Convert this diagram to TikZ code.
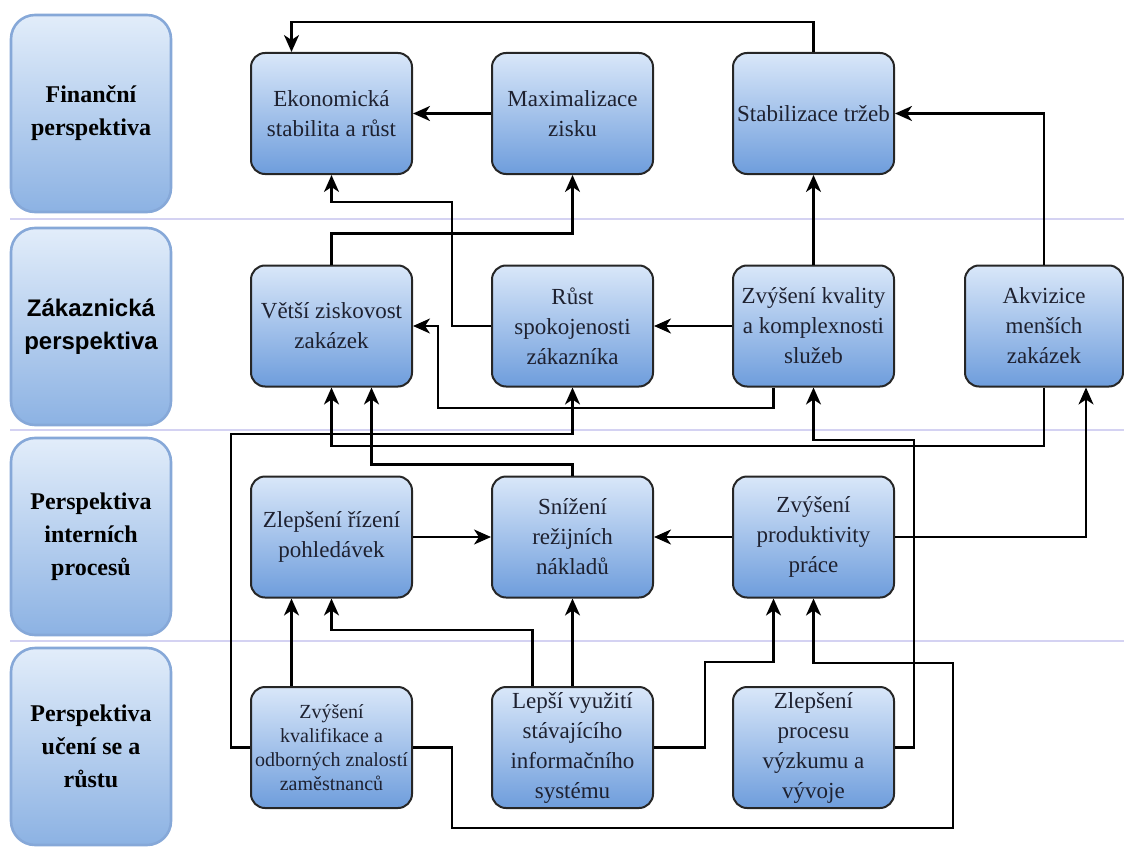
\documentclass[tikz,border=0pt]{standalone}
\usepackage{fontspec}
\setmainfont{Liberation Serif}
\newfontfamily\serifrm{Liberation Serif}
\newfontfamily\sansbold{Liberation Sans}
\usetikzlibrary{arrows.meta}
\definecolor{nodetop}{HTML}{D9E7F9}
\definecolor{nodebot}{HTML}{6E9DDC}
\definecolor{labtop}{HTML}{E2EDFA}
\definecolor{labbot}{HTML}{8CB2E3}
\definecolor{labborder}{HTML}{86A8D8}
\definecolor{lane}{HTML}{D4D2F2}
\definecolor{txt}{HTML}{1E2130}
\tikzset{
  goal/.style={rectangle, rounded corners=14pt, draw=black!85, line width=2pt,
    top color=nodetop, bottom color=nodebot, minimum width=161pt, minimum height=121pt,
    inner sep=0pt, align=center, text=txt, font=\serifrm\fontsize{23}{30}\selectfont},
  goalsmall/.style={goal, font=\serifrm\fontsize{20}{24}\selectfont},
  persp/.style={rectangle, rounded corners=24pt, draw=labborder, line width=2.6pt,
    top color=labtop, bottom color=labbot, minimum width=160pt, minimum height=197pt,
    inner sep=0pt, align=center, font=\serifrm\bfseries\fontsize{24}{33}\selectfont},
  arr/.style={line width=2.2pt, draw=black, -{Stealth[length=17pt,width=15pt,inset=5pt]}},
  lanesep/.style={draw=lane, line width=1.8pt}
}
\begin{document}
\begin{tikzpicture}[x=1pt,y=-1pt]
\useasboundingbox (0,0) rectangle (1124,848);
% lane separators
\draw[lanesep] (10,219) -- (1124,219);
\draw[lanesep] (10,430) -- (1124,430);
\draw[lanesep] (10,641) -- (1124,641);
% perspective labels
\node[persp] (p1) at (91,113.5) {Finanční\\perspektiva};
\node[persp, font=\sansbold\bfseries\fontsize{24}{33}\selectfont] (p2) at (91,326.5) {Zákaznická\\perspektiva};
\node[persp] (p3) at (91,536.5) {Perspektiva\\interních\\procesů};
\node[persp] (p4) at (91,746.5) {Perspektiva\\učení se a\\růstu};
% row 1
\node[goal] (eko) at (331.5,113.5) {Ekonomická\\stabilita a růst};
\node[goal] (max) at (572.5,113.5) {Maximalizace\\zisku};
\node[goal] (stab) at (813.5,113.5) {Stabilizace tržeb};
% row 2
\node[goal] (vet) at (331.5,326) {Větší ziskovost\\zakázek};
\node[goal] (rust) at (572.5,326) {Růst\\spokojenosti\\zákazníka};
\node[goal] (kval) at (813.5,326) {Zvýšení kvality\\a komplexnosti\\služeb};
\node[goal, minimum width=158pt] (akv) at (1044,326) {Akvizice\\menších\\zakázek};
% row 3
\node[goal] (rizeni) at (331.5,537) {Zlepšení řízení\\pohledávek};
\node[goal] (sniz) at (572.5,537) {Snížení\\režijních\\nákladů};
\node[goal] (prod) at (813.5,537) {Zvýšení\\produktivity\\práce};
% row 4
\node[goalsmall] (kvalif) at (331.5,747.5) {Zvýšení\\kvalifikace a\\odborných znalostí\\zaměstnanců};
\node[goal] (lepsi) at (572.5,747.5) {Lepší využití\\stávajícího\\informačního\\systému};
\node[goal] (proc) at (813.5,747.5) {Zlepšení\\procesu\\výzkumu a\\vývoje};
% connectors
\draw[arr] (stab.north) -- (stab.north |- 0,22) -| ([xshift=-40pt]eko.north);
\draw[arr] (max.west) -- (eko.east);
\draw[arr] (akv.north) |- (stab.east);
\draw[arr] (kval.north) -- (stab.south);
\draw[arr] (rust.west) -| (452,202) -| (eko.south);
\draw[arr] (vet.north) -- ++(0,-31) -| (max.south);
\draw[arr] (kval.west) -- (rust.east);
\draw[arr] ([xshift=-40pt]kval.south) |- (438,408) |- (vet.east);
\draw[arr] (kvalif.west) -| (231,434) -| (rust.south);
\draw[arr] (akv.south) |- (vet.south |- 0,446) -- (vet.south);
\draw[arr] (proc.east) -| (914,440) -| (kval.south);
\draw[arr] (prod.east) -| ([xshift=42pt]akv.south);
\draw[arr] (prod.west) -- (sniz.east);
\draw[arr] (rizeni.east) -- (sniz.west);
\draw[arr] (sniz.north) -- ++(0,-11) -| ([xshift=40pt]vet.south);
\draw[arr] ([xshift=-40pt]kvalif.north) -- ([xshift=-40pt]rizeni.south);
\draw[arr] ([xshift=-40pt]lepsi.north) -- ++(0,-56) -| (rizeni.south);
\draw[arr] (lepsi.north) -- (sniz.south);
\draw[arr] (lepsi.east) -| (705,662) -| ([xshift=-40pt]prod.south);
\draw[arr] (kvalif.east) -| (452,828) -| (953,663) -| (prod.south);
\end{tikzpicture}
\end{document}
